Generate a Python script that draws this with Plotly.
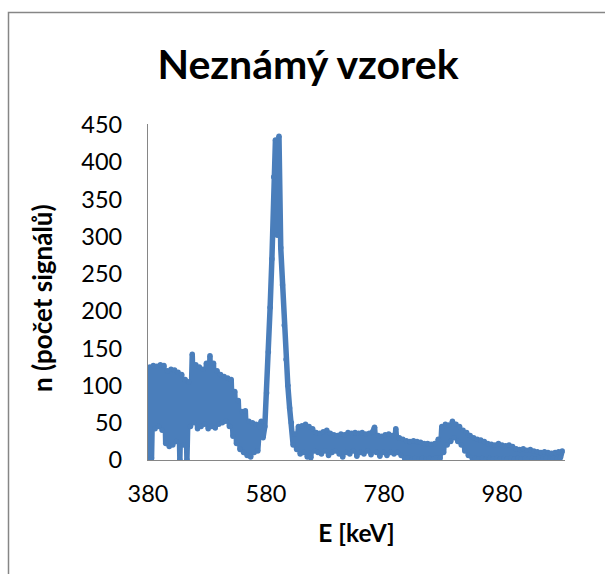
import plotly.graph_objects as go

# Spectrum channels: energy of the first channel and the channel width (keV)
E_START = 380
E_STEP = 3

# Counts per channel
counts = [
    0, 125, 2, 127, 42, 126, 45, 128, 40, 127,
    22, 120, 18, 122, 20, 121, 25, 118, 0, 115,
    20, 108, 0, 105, 45, 142, 50, 128, 42, 125,
    45, 122, 48, 130, 42, 140, 45, 130, 43, 120,
    48, 115, 50, 112, 52, 110, 45, 108, 32, 92,
    22, 80, 14, 65, 10, 66, 6, 52, 4, 50,
    10, 48, 12, 45, 52, 30, 45, 90, 145, 205,
    270, 380, 430, 302, 435, 285, 235, 181, 135, 100,
    70, 50, 20, 35, 14, 45, 8, 46, 10, 48,
    4, 45, 3, 42, 12, 37, 10, 36, 8, 38,
    12, 40, 6, 36, 10, 34, 12, 33, 8, 35,
    4, 34, 10, 37, 8, 36, 12, 37, 5, 36,
    10, 37, 8, 35, 12, 36, 7, 38, 44, 10,
    33, 5, 32, 10, 34, 6, 35, 10, 33, 8,
    42, 10, 30, 6, 28, 2, 26, 3, 25, 1,
    26, 2, 25, 1, 24, 2, 22, 1, 22, 2,
    21, 1, 22, 3, 28, 2, 45, 10, 48, 20,
    47, 25, 52, 30, 48, 25, 45, 20, 40, 12,
    37, 6, 33, 3, 30, 2, 28, 1, 27, 2,
    25, 1, 22, 2, 21, 1, 20, 2, 22, 1,
    20, 2, 19, 1, 20, 2, 18, 1, 15, 2,
    14, 1, 15, 2, 13, 1, 14, 2, 12, 1,
    11, 2, 10, 1, 11, 2, 10, 1, 9, 2,
    10, 1, 11, 3, 12,
]
energies = [E_START + E_STEP * i for i in range(len(counts))]

x_ticks = [380, 580, 780, 980]
y_ticks = [0, 50, 100, 150, 200, 250, 300, 350, 400, 450]

TITLE = "Neznámý vzorek"
X_TITLE = "E [keV]"
Y_TITLE = "n (počet signálů)"

FONT = "Lato"
BLUE = "#4A7EBB"
GRAY = "#868686"

fig = go.Figure()
fig.add_trace(go.Scatter(
    x=energies, y=counts, mode="lines+markers",
    line=dict(color=BLUE, width=5.5),
    marker=dict(color=BLUE, size=5.5, line=dict(width=0)),
    showlegend=False, hoverinfo="skip", cliponaxis=True,
))

W, H = 605, 574
L, R, T, B = 148, 40, 124, 114
pw, ph = W - L - R, H - T - B

def px_to_paper_x(px):
    return (px - L) / pw

def py_to_paper_y(py):
    return (H - B - py) / ph

fig.update_layout(
    width=W, height=H,
    margin=dict(l=L, r=R, t=T, b=B, pad=0),
    paper_bgcolor="white", plot_bgcolor="white",
    font=dict(family=FONT, size=23, color="black"),
    title=dict(
        text=f"<b>{TITLE}</b>", x=px_to_paper_x(308), xref="paper",
        xanchor="center", y=1 - 65 / H, yanchor="middle",
        font=dict(family=FONT, size=41, color="black"),
    ),
    xaxis=dict(
        range=[380, 380 + pw * 200 / 118],
        tickmode="array", tickvals=x_ticks, ticktext=[str(v) for v in x_ticks],
        showgrid=False, zeroline=False, showline=True, linecolor=GRAY, linewidth=1.3,
        ticks="", ticklabelstandoff=13,
        tickfont=dict(family=FONT, size=23.5, color="black"),
        title=dict(text=f"<b>{X_TITLE}</b>", standoff=18,
                   font=dict(family=FONT, size=24.5, color="black")),
    ),
    yaxis=dict(
        range=[0, 450 * (ph / 335.0)],
        tickmode="array", tickvals=y_ticks, ticktext=[str(v) for v in y_ticks],
        showgrid=False, zeroline=False, showline=True, linecolor=GRAY, linewidth=1.3,
        ticks="", ticklabelstandoff=20,
        tickfont=dict(family=FONT, size=23.5, color="black"),
    ),
    annotations=[
        dict(text=f"<b>{Y_TITLE}</b>", textangle=-90, showarrow=False,
             xref="paper", yref="paper",
             x=px_to_paper_x(42), y=py_to_paper_y(298),
             xanchor="center", yanchor="middle",
             font=dict(family=FONT, size=26, color="black")),
    ],
    shapes=[
        dict(type="rect", xref="paper", yref="paper",
             x0=px_to_paper_x(8.5), x1=px_to_paper_x(620),
             y0=py_to_paper_y(590), y1=py_to_paper_y(12.5),
             line=dict(color=GRAY, width=1.5), fillcolor="rgba(0,0,0,0)", layer="below"),
    ],
)

fig.write_html("out.html")
